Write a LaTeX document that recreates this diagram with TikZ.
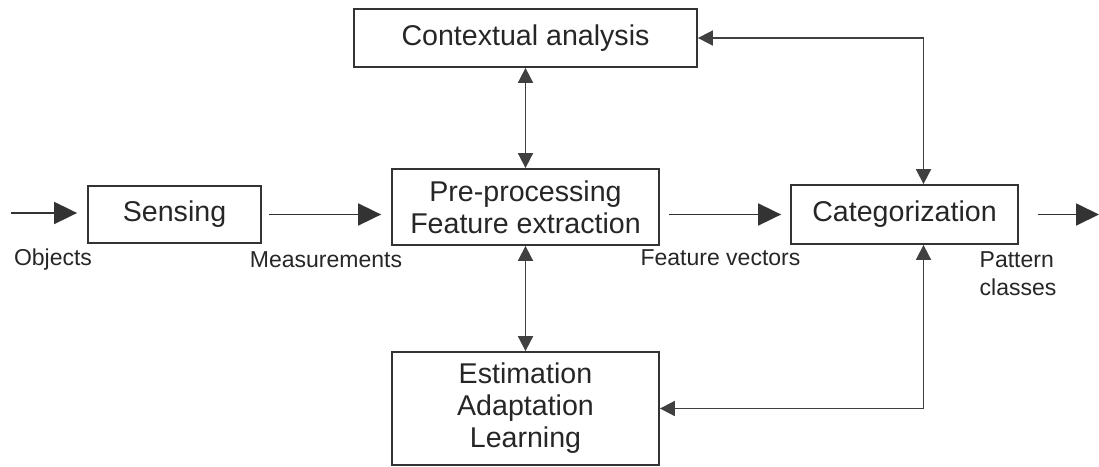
\documentclass[tikz,border=0pt]{standalone}
\usepackage{fontspec}
\setmainfont{Liberation Sans}
\usetikzlibrary{arrows.meta}
\tikzset{
  blk/.style={draw=black!80, line width=1.8pt, inner sep=0pt, align=center, text=black!85, font=\fontsize{28.6}{32}\selectfont},
  lbl/.style={inner sep=0pt, text=black!85, font=\fontsize{23}{28}\selectfont},
  flow/.style={draw=black!80, line width=1.8pt, -{Triangle[length=23pt,width=22pt]}},
  link/.style={draw=black!75, line width=1.8pt, {Triangle[length=15pt,width=15pt]}-{Triangle[length=15pt,width=15pt]}}
}
\begin{document}
\begin{tikzpicture}[x=1pt, y=-1pt]
\useasboundingbox (0,0) rectangle (1099,466);
\node[blk, minimum width=343pt, minimum height=58pt] (ctx) at (525.5,38) {Contextual analysis};
\node[blk, minimum width=173pt, minimum height=57pt] (sens) at (174.5,214.5) {Sensing};
\node[blk, minimum width=267pt, minimum height=76pt] (feat) at (525.5,207) {Pre-processing\\Feature extraction};
\node[blk, minimum width=227pt, minimum height=59pt] (cat) at (904.5,214.5) {Categorization};
\node[blk, minimum width=267pt, minimum height=113pt] (est) at (525.5,408.5) {Estimation\\Adaptation\\Learning};

\node[lbl] (objl) at (53,260) {Objects};
\node[lbl] (meas) at (326,260) {Measurements};
\node[lbl] (fvec) at (720.5,258) {Feature vectors};
\node[lbl, align=left] (pcls) at (1018,274) {Pattern\\classes};

\coordinate (objin) at (11,213);
\coordinate (clsout) at (1099,213);

\draw[flow, shorten >=10pt] (objin) -- (objin -| sens.west);
\draw[flow, shorten <=7pt, shorten >=10pt] (sens.east) -- (sens.east -| feat.west);
\draw[flow, shorten <=9pt, shorten >=9pt] (feat.east |- cat.west) -- (cat.west);
\draw[flow, shorten <=19pt] (cat.east) -- (cat.east -| clsout);

\draw[link] (ctx) -- (feat);
\draw[link] (feat) -- (est);
\draw[link] (ctx.east) -| ([xshift=19pt]cat.north);
\draw[link] ([xshift=19pt]cat.south) |- (est.east);
\end{tikzpicture}
\end{document}
